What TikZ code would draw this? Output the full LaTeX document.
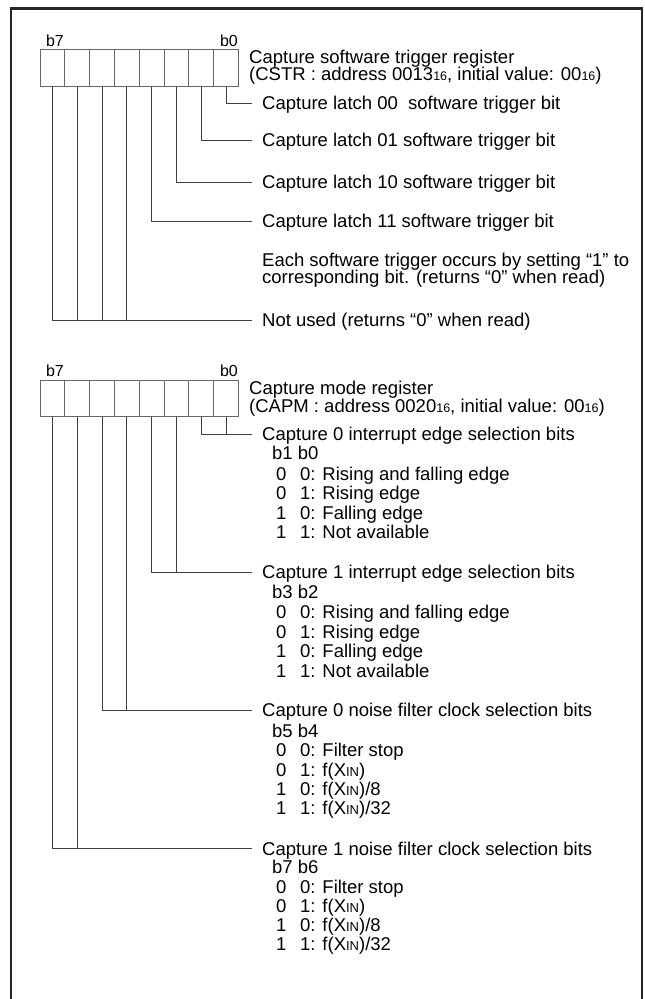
\documentclass[tikz,border=0pt]{standalone}
\usepackage{fontspec}
\setmainfont{Liberation Sans}
\newcommand{\subsz}[1]{{\fontsize{12.5}{13}\selectfont #1}}
\newcommand{\xin}{X{\fontsize{13}{13}\selectfont IN}}
\newcommand{\rowtxt}[2]{\makebox[24pt][l]{#1}#2}
\tikzset{
  cell/.style={draw=black!60, line width=1pt, minimum width=24.8pt, inner sep=0pt},
  lbl/.style={anchor=west, inner sep=0pt, font=\fontsize{18.5}{19}\selectfont, text height=13.2pt, text depth=0pt},
  bitlbl/.style={inner sep=0pt, font=\fontsize{16}{16}\selectfont},
  conn/.style={draw=black!75, line width=0.9pt},
  frame/.style={draw=black!85, line width=2.6pt}
}
\begin{document}
\begin{tikzpicture}[x=1pt, y=-1pt]
\useasboundingbox (0,0) rectangle (645,999);
\draw[frame] (11,1005) -- (11,8.5) -- (642,8.5) -- (642,1005);

% ---------- Register 1: CSTR ----------
\foreach \i in {0,...,7}
  \node[cell, minimum height=37pt] (r1c\i) at ({40+24.8*(7-\i)+12.4}, 67.5) {};
\node[bitlbl] (r1b7) at (55,41) {b7};
\node[bitlbl, anchor=east] (r1b0) at (238,41) {b0};
\node[lbl] (t1a) at (249,56.5) {Capture software trigger register};
\node[lbl] (t1b) at (249,74) {(CSTR : address 0013\subsz{16}, initial value: 00\subsz{16})};

\node[lbl] (l00) at (262,103) {Capture latch 00\ \ software trigger bit};
\node[lbl] (l01) at (262,140) {Capture latch 01 software trigger bit};
\node[lbl] (l10) at (262,182) {Capture latch 10 software trigger bit};
\node[lbl] (l11) at (262,221) {Capture latch 11 software trigger bit};
\node[lbl] (ea) at (262,260) {Each software trigger occurs by setting “1” to};
\node[lbl] (eb) at (262,277) {corresponding bit. (returns “0” when read)};
\node[lbl] (nu) at (262,320) {Not used (returns “0” when read)};

\draw[conn] (r1c0.south) |- ([xshift=-10pt]l00.west);
\draw[conn] (r1c1.south) |- ([xshift=-10pt]l01.west);
\draw[conn] (r1c2.south) |- ([xshift=-10pt]l10.west);
\draw[conn] (r1c3.south) |- ([xshift=-10pt]l11.west);
\draw[conn] (r1c7.south) |- ([xshift=-10pt]nu.west);
\draw[conn] (r1c6.south) -- (r1c6.south |- nu.west);
\draw[conn] (r1c5.south) -- (r1c5.south |- nu.west);
\draw[conn] (r1c4.south) -- (r1c4.south |- nu.west);

% ---------- Register 2: CAPM ----------
\foreach \i in {0,...,7}
  \node[cell, minimum height=36pt] (r2c\i) at ({40+24.8*(7-\i)+12.4}, 398) {};
\node[bitlbl] (r2b7) at (55,371) {b7};
\node[bitlbl, anchor=east] (r2b0) at (238,371) {b0};
\node[lbl] (t2a) at (249,388) {Capture mode register};
\node[lbl] (t2b) at (249,405.5) {(CAPM : address 0020\subsz{16}, initial value: 00\subsz{16})};

% Capture 0 interrupt edge
\node[lbl] (e0) at (262,434) {Capture 0 interrupt edge selection bits};
\node[lbl] (e0h) at (272,453) {b1 b0};
\node[lbl] (e0r1) at (276,473.5) {\rowtxt{0}{0: Rising and falling edge}};
\node[lbl] (e0r2) at (276,493) {\rowtxt{0}{1: Rising edge}};
\node[lbl] (e0r3) at (276,512.5) {\rowtxt{1}{0: Falling edge}};
\node[lbl] (e0r4) at (276,532) {\rowtxt{1}{1: Not available}};

% Capture 1 interrupt edge
\node[lbl] (e1) at (262,572) {Capture 1 interrupt edge selection bits};
\node[lbl] (e1h) at (272,592) {b3 b2};
\node[lbl] (e1r1) at (276,612) {\rowtxt{0}{0: Rising and falling edge}};
\node[lbl] (e1r2) at (276,631.5) {\rowtxt{0}{1: Rising edge}};
\node[lbl] (e1r3) at (276,651) {\rowtxt{1}{0: Falling edge}};
\node[lbl] (e1r4) at (276,670.5) {\rowtxt{1}{1: Not available}};

% Capture 0 noise filter
\node[lbl] (n0) at (262,710) {Capture 0 noise filter clock selection bits};
\node[lbl] (n0h) at (272,730.5) {b5 b4};
\node[lbl] (n0r1) at (276,750) {\rowtxt{0}{0: Filter stop}};
\node[lbl] (n0r2) at (276,769.5) {\rowtxt{0}{1: f(\xin)}};
\node[lbl] (n0r3) at (276,789) {\rowtxt{1}{0: f(\xin)/8}};
\node[lbl] (n0r4) at (276,808) {\rowtxt{1}{1: f(\xin)/32}};

% Capture 1 noise filter
\node[lbl] (n1) at (262,848.5) {Capture 1 noise filter clock selection bits};
\node[lbl] (n1h) at (272,867) {b7 b6};
\node[lbl] (n1r1) at (276,886.5) {\rowtxt{0}{0: Filter stop}};
\node[lbl] (n1r2) at (276,905.5) {\rowtxt{0}{1: f(\xin)}};
\node[lbl] (n1r3) at (276,924.5) {\rowtxt{1}{0: f(\xin)/8}};
\node[lbl] (n1r4) at (276,943.5) {\rowtxt{1}{1: f(\xin)/32}};

\draw[conn] (r2c1.south) |- ([xshift=-10pt]e0.west);
\draw[conn] (r2c0.south) -- (r2c0.south |- e0.west);
\draw[conn] (r2c3.south) |- ([xshift=-10pt]e1.west);
\draw[conn] (r2c2.south) -- (r2c2.south |- e1.west);
\draw[conn] (r2c5.south) |- ([xshift=-10pt]n0.west);
\draw[conn] (r2c4.south) -- (r2c4.south |- n0.west);
\draw[conn] (r2c7.south) |- ([xshift=-10pt]n1.west);
\draw[conn] (r2c6.south) -- (r2c6.south |- n1.west);
\end{tikzpicture}
\end{document}
